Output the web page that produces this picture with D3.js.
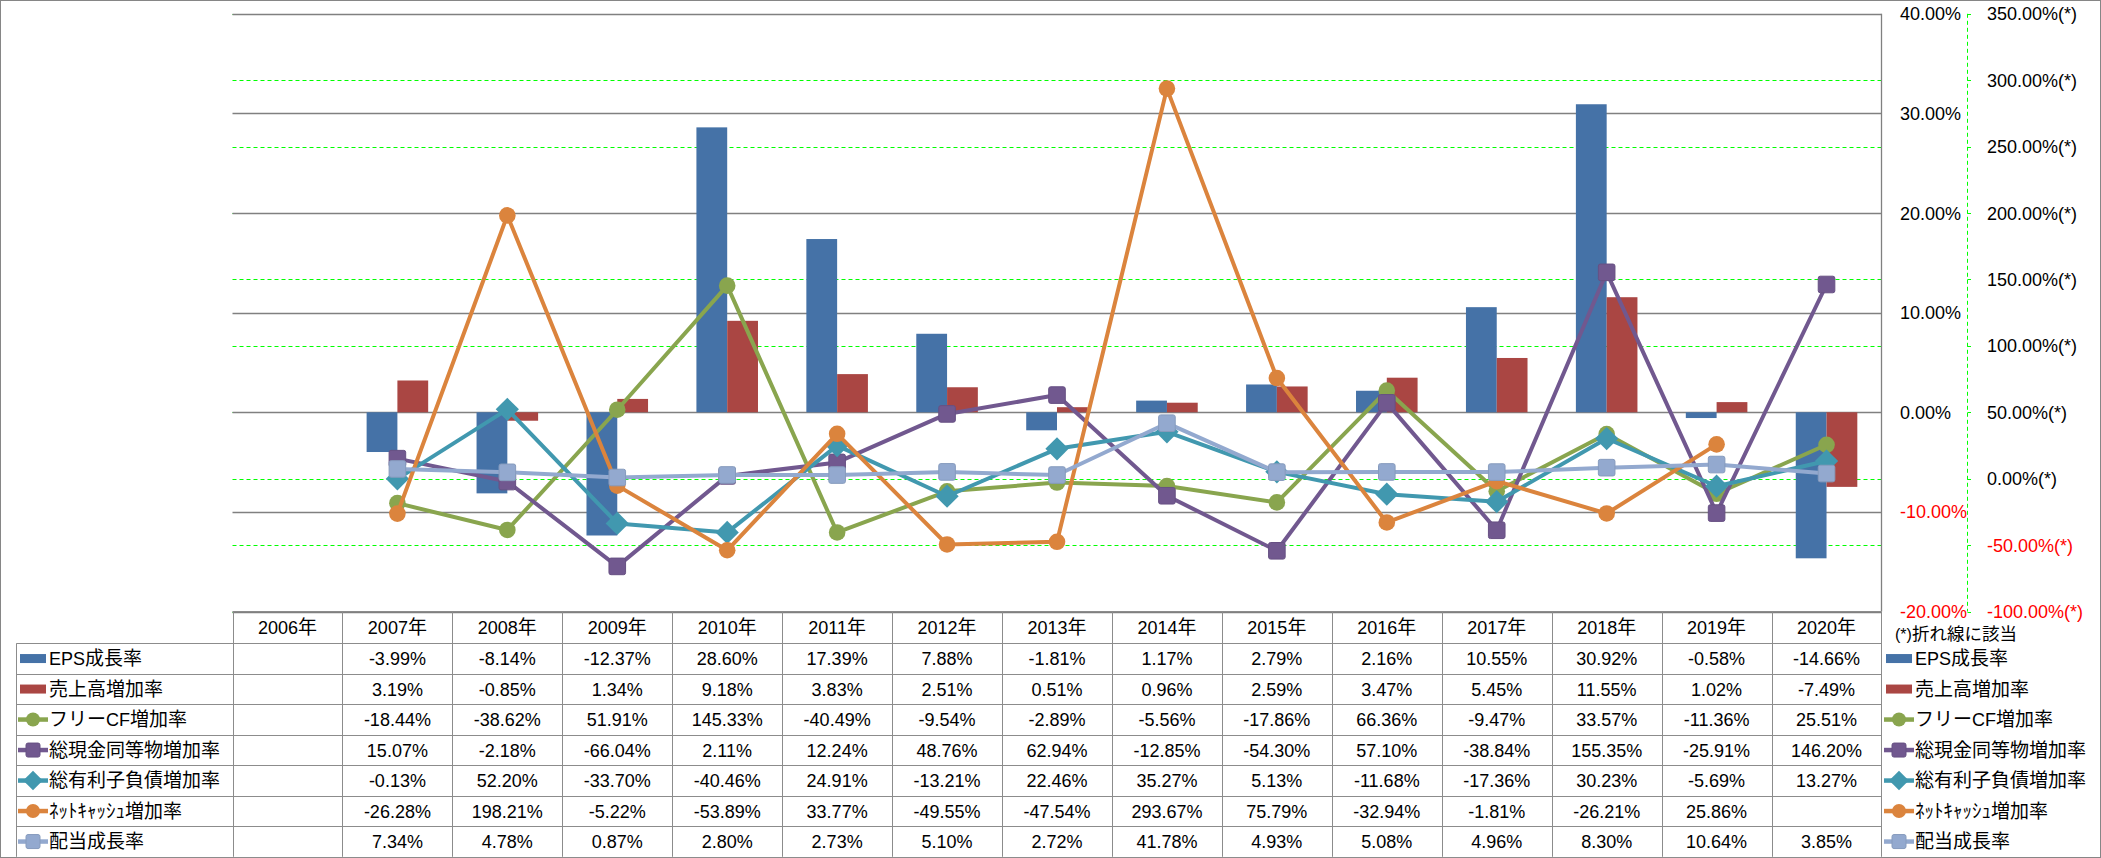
<!DOCTYPE html>
<html><head><meta charset="utf-8">
<script src="https://cdn.jsdelivr.net/npm/d3@7"></script>
<style>html,body{margin:0;padding:0;background:#fff;}svg{display:block;}</style>
</head><body>
<script>
const years = ['2006年','2007年','2008年','2009年','2010年','2011年','2012年','2013年','2014年','2015年','2016年','2017年','2018年','2019年','2020年'];
const epsGrowth   = [null, -3.99, -8.14, -12.37, 28.60, 17.39, 7.88, -1.81, 1.17, 2.79, 2.16, 10.55, 30.92, -0.58, -14.66];
const salesGrowth = [null, 3.19, -0.85, 1.34, 9.18, 3.83, 2.51, 0.51, 0.96, 2.59, 3.47, 5.45, 11.55, 1.02, -7.49];
const fcfGrowth   = [null, -18.44, -38.62, 51.91, 145.33, -40.49, -9.54, -2.89, -5.56, -17.86, 66.36, -9.47, 33.57, -11.36, 25.51];
const cashGrowth  = [null, 15.07, -2.18, -66.04, 2.11, 12.24, 48.76, 62.94, -12.85, -54.30, 57.10, -38.84, 155.35, -25.91, 146.20];
const debtGrowth  = [null, -0.13, 52.20, -33.70, -40.46, 24.91, -13.21, 22.46, 35.27, 5.13, -11.68, -17.36, 30.23, -5.69, 13.27];
const netCashGrowth = [null, -26.28, 198.21, -5.22, -53.89, 33.77, -49.55, -47.54, 293.67, 75.79, -32.94, -1.81, -26.21, 25.86, null];
const divGrowth   = [null, 7.34, 4.78, 0.87, 2.80, 2.73, 5.10, 2.72, 41.78, 4.93, 5.08, 4.96, 8.30, 10.64, 3.85];
const leftTicks  = [40, 30, 20, 10, 0, -10, -20];
const rightTicks = [350, 300, 250, 200, 150, 100, 50, 0, -50, -100];
const footnote = '(*)折れ線に該当';

const series = [
  {name:'EPS成長率', values: epsGrowth, type:'bar', color:'#4572A7'},
  {name:'売上高増加率', values: salesGrowth, type:'bar', color:'#AA4643'},
  {name:'フリーCF増加率', values: fcfGrowth, type:'line', color:'#89A54E', marker:'circle'},
  {name:'総現金同等物増加率', values: cashGrowth, type:'line', color:'#71588F', marker:'square'},
  {name:'総有利子負債増加率', values: debtGrowth, type:'line', color:'#4198AF', marker:'diamond'},
  {name:'ﾈｯﾄｷｬｯｼｭ増加率', values: netCashGrowth, type:'line', color:'#DB843D', marker:'circle'},
  {name:'配当成長率', values: divGrowth, type:'line', color:'#93A9CF', marker:'square'}
];

const W = 2101, H = 858;
const LAT = '"Liberation Sans", Arial, sans-serif';
const CJK = '"Noto Sans CJK JP", sans-serif';
const LFS = 18, CFS = 19;

const svg = d3.select('body').append('svg').attr('width', W).attr('height', H);

const plotL = 232.5, plotR = 1881.5, plotT = 13.8, plotB = 611.5;
const yL = d3.scaleLinear().domain([-20, 40]).range([plotB, plotT]);
const yR = d3.scaleLinear().domain([-100, 350]).range([plotB, plotT]);
const xCol = d3.scaleBand().domain(years).range([plotL, plotR]).padding(0);
const xBar = d3.scaleBand().domain(years).range([plotL, plotR]).paddingInner(0.44).paddingOuter(0.22);
const barSeries = series.filter(s => s.type === 'bar');
const xSub = d3.scaleBand().domain(barSeries.map(s => s.name)).range([0, xBar.bandwidth()]);
const cx = y => xCol(y) + xCol.bandwidth() / 2;

const cjkRe = /([\u3000-\u30ff\u3400-\u9fff\uff00-\uffef]+)/;
function rich(sel, str, lfs = LFS, cfs = CFS) {
  str.split(cjkRe).filter(s => s.length).forEach(part => {
    const isC = /[\u3000-\u30ff\u3400-\u9fff\uff00-\uffef]/.test(part);
    sel.append('tspan').text(part)
      .attr('font-family', isC ? CJK : LAT)
      .attr('font-size', isC ? cfs : lfs);
  });
  return sel;
}

// outer border
svg.append('rect').attr('x', 0.5).attr('y', 0.5).attr('width', W - 1).attr('height', H - 1)
  .attr('fill', 'none').attr('stroke', '#868686');

// secondary gridlines (green dashed)
svg.append('g').selectAll('line').data(rightTicks).join('line')
  .attr('x1', plotL).attr('x2', plotR)
  .attr('y1', d => Math.round(yR(d)) + 0.5).attr('y2', d => Math.round(yR(d)) + 0.5)
  .attr('stroke', '#00FF00').attr('stroke-width', 1).attr('stroke-dasharray', '4,3');

// primary gridlines (gray)
svg.append('g').selectAll('line').data(leftTicks).join('line')
  .attr('x1', plotL).attr('x2', plotR)
  .attr('y1', d => Math.round(yL(d)) + 0.5).attr('y2', d => Math.round(yL(d)) + 0.5)
  .attr('stroke', '#808080').attr('stroke-width', 1.3);
svg.append('line').attr('x1', plotR).attr('x2', plotR).attr('y1', plotT).attr('y2', plotB)
  .attr('stroke', '#808080').attr('stroke-width', 1.3);

// bars
barSeries.forEach(s => {
  svg.append('g').selectAll('rect').data(years.map((y, i) => ({y, v: s.values[i]})).filter(d => d.v != null)).join('rect')
    .attr('x', d => xBar(d.y) + xSub(s.name))
    .attr('width', xSub.bandwidth())
    .attr('y', d => Math.min(yL(d.v), yL(0)))
    .attr('height', d => Math.abs(yL(d.v) - yL(0)))
    .attr('fill', s.color);
});

function drawMarker(g, type, x, y, color, size) {
  if (type === 'circle') {
    g.append('circle').attr('cx', x).attr('cy', y).attr('r', size).attr('fill', color);
  } else if (type === 'square') {
    g.append('rect').attr('x', x - size).attr('y', y - size).attr('width', size * 2).attr('height', size * 2)
      .attr('rx', 2).attr('fill', color).attr('stroke', d3.color(color).darker(0.25)).attr('stroke-width', 1);
  } else {
    const s = size * 1.4;
    g.append('path').attr('d', `M${x},${y - s}L${x + s},${y}L${x},${y + s}L${x - s},${y}Z`).attr('fill', color);
  }
}

// lines
const line = d3.line().defined(d => d.v != null).x(d => cx(d.y)).y(d => yR(d.v));
series.filter(s => s.type === 'line').forEach(s => {
  const data = years.map((y, i) => ({y, v: s.values[i]}));
  const g = svg.append('g');
  g.append('path').datum(data).attr('d', line).attr('fill', 'none')
    .attr('stroke', s.color).attr('stroke-width', 4).attr('stroke-linejoin', 'round');
  data.filter(d => d.v != null).forEach(d => drawMarker(g, s.marker, cx(d.y), yR(d.v), s.color, 8.3));
});

// primary axis labels (right of plot)
const fmt = d => d.toFixed(2) + '%';
svg.append('g').selectAll('text').data(leftTicks).join('text')
  .attr('x', 1900).attr('y', d => yL(d) + 6.5)
  .attr('font-family', LAT).attr('font-size', LFS)
  .attr('fill', d => d < 0 ? '#FF0000' : '#000')
  .text(fmt);

// secondary axis
const axR = 1967.5;
svg.append('line').attr('x1', axR).attr('x2', axR).attr('y1', plotT).attr('y2', plotB)
  .attr('stroke', '#00FF00').attr('stroke-width', 1).attr('stroke-dasharray', '4,3');
svg.append('g').selectAll('line').data(rightTicks).join('line')
  .attr('x1', axR).attr('x2', axR + 3.5).attr('y1', d => Math.round(yR(d)) + 0.5).attr('y2', d => Math.round(yR(d)) + 0.5)
  .attr('stroke', '#00FF00').attr('stroke-width', 1);
svg.append('g').selectAll('text').data(rightTicks).join('text')
  .attr('x', 1987).attr('y', d => yR(d) + 6.5)
  .attr('font-family', LAT).attr('font-size', LFS)
  .attr('fill', d => d < 0 ? '#FF0000' : '#000')
  .text(d => fmt(d) + '(*)');

// data table
const tableTop = 611.5, headH = 31.8, rowH = 30.5;
const legL = 16.5;
const rowY = i => tableTop + headH + i * rowH;
const tbl = svg.append('g');
const gridC = '#8c8c8c';
tbl.append('line').attr('x1', plotL).attr('x2', plotR).attr('y1', tableTop).attr('y2', tableTop).attr('stroke', gridC);
for (let i = 0; i <= series.length; i++) {
  const y = Math.round(rowY(i)) + 0.5;
  tbl.append('line').attr('x1', legL).attr('x2', plotR).attr('y1', y).attr('y2', y).attr('stroke', gridC);
}
tbl.append('line').attr('x1', legL).attr('x2', legL).attr('y1', rowY(0)).attr('y2', rowY(series.length)).attr('stroke', gridC);
years.forEach(y => {
  const x = Math.round(xCol(y)) + 0.5;
  tbl.append('line').attr('x1', x).attr('x2', x).attr('y1', tableTop).attr('y2', rowY(series.length)).attr('stroke', gridC);
});
tbl.append('line').attr('x1', plotR).attr('x2', plotR).attr('y1', tableTop).attr('y2', rowY(series.length)).attr('stroke', gridC);

years.forEach(y => {
  rich(tbl.append('text').attr('x', cx(y)).attr('y', tableTop + headH / 2 + 6.5).attr('text-anchor', 'middle'), y);
});
series.forEach((s, i) => {
  const yc = rowY(i) + rowH / 2 + 6.5;
  s.values.forEach((v, j) => {
    if (v == null) return;
    tbl.append('text').attr('x', cx(years[j])).attr('y', yc).attr('text-anchor', 'middle')
      .attr('font-family', LAT).attr('font-size', LFS).text(fmt(v));
  });
});

function legendKey(g, s, x0, yc) {
  if (s.type === 'bar') {
    g.append('rect').attr('x', x0).attr('y', yc - 4.5).attr('width', 26).attr('height', 9).attr('fill', s.color);
  } else {
    g.append('line').attr('x1', x0 - 2).attr('x2', x0 + 28).attr('y1', yc).attr('y2', yc)
      .attr('stroke', s.color).attr('stroke-width', 4.5);
    drawMarker(g, s.marker, x0 + 13, yc, s.color, 7);
  }
}
series.forEach((s, i) => {
  const yc = rowY(i) + rowH / 2;
  legendKey(tbl, s, 20, yc);
  rich(tbl.append('text').attr('x', 49).attr('y', yc + 6.5), s.name);
  legendKey(tbl, s, 1886, yc);
  rich(tbl.append('text').attr('x', 1915).attr('y', yc + 6.5), s.name);
});
rich(svg.append('text').attr('x', 1895).attr('y', 640), footnote, 16, 17.5);
</script>
</body></html>
